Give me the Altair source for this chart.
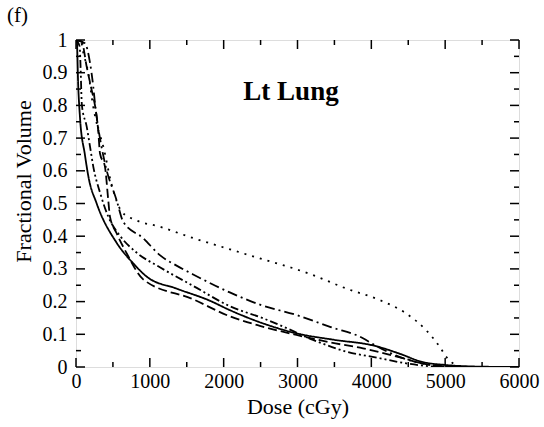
import altair as alt
import pandas as pd

# ---- data ----
solid_dose = [0, 10, 30, 55, 120, 170, 280, 550, 775, 960, 1360, 1810, 2083, 2500, 2986, 3500, 4022, 4428, 4650, 5015, 5500, 6000]
solid_vol = [1.0, 1.0, 0.86, 0.76, 0.65, 0.58, 0.5, 0.38, 0.317, 0.276, 0.24, 0.203, 0.174, 0.136, 0.103, 0.083, 0.066, 0.037, 0.018, 0.006, 0.001, 0.0]

dashed_dose = [0, 77, 145, 212, 257, 302, 325, 392, 437, 460, 550, 686, 910, 1587, 2083, 2490, 2986, 3450, 3887, 4428, 4700, 5000, 5200, 6000]
dashed_vol = [1.0, 0.995, 0.918, 0.847, 0.8, 0.72, 0.653, 0.613, 0.51, 0.46, 0.409, 0.348, 0.268, 0.207, 0.155, 0.126, 0.098, 0.075, 0.057, 0.027, 0.01, 0.002, 0.0, 0.0]

dotted_dose = [0, 60, 100, 166, 230, 280, 370, 480, 620, 800, 1136, 1590, 2040, 2490, 2940, 3210, 3660, 4110, 4470, 4740, 4925, 5015, 5100, 5200, 5400, 6000]
dotted_vol = [1.0, 1.0, 0.96, 0.9, 0.8, 0.745, 0.674, 0.56, 0.475, 0.45, 0.429, 0.394, 0.363, 0.332, 0.302, 0.281, 0.24, 0.205, 0.164, 0.113, 0.062, 0.031, 0.012, 0.003, 0.0, 0.0]

dashdot_dose = [0, 120, 190, 234, 257, 280, 392, 550, 640, 910, 1136, 1362, 1587, 2083, 2500, 2986, 3450, 3887, 4022, 4338, 4700, 5000, 5500, 6000]
dashdot_vol = [1.0, 0.99, 0.93, 0.857, 0.806, 0.765, 0.623, 0.51, 0.444, 0.394, 0.342, 0.31, 0.283, 0.228, 0.19, 0.159, 0.122, 0.088, 0.07, 0.035, 0.01, 0.002, 0.0, 0.0]

dashdotdot_dose = [0, 50, 60, 80, 145, 190, 234, 330, 437, 600, 820, 1136, 1587, 2083, 2534, 2760, 3210, 3662, 4113, 4474, 4800, 5000, 6000]
dashdotdot_vol = [1.0, 0.98, 0.93, 0.8, 0.735, 0.674, 0.613, 0.53, 0.46, 0.4, 0.35, 0.305, 0.248, 0.186, 0.149, 0.128, 0.083, 0.047, 0.027, 0.011, 0.002, 0.0, 0.0]

series_names = ["solid", "dashed", "dotted", "dashdot", "dashdotdot"]
series_dashes = [[1, 0], [9, 4], [2, 6], [10, 4, 2, 4], [8, 3, 2, 3, 2, 3]]

x_major = [0, 1000, 2000, 3000, 4000, 5000, 6000]
x_minor = [500, 1500, 2500, 3500, 4500, 5500]
y_major = [0, 0.1, 0.2, 0.3, 0.4, 0.5, 0.6, 0.7, 0.8, 0.9, 1.0]
y_minor = [0.05, 0.15, 0.25, 0.35, 0.45, 0.55, 0.65, 0.75, 0.85, 0.95]

# ---- build table ----
rows = []
for name, d, v in [
    ("solid", solid_dose, solid_vol),
    ("dashed", dashed_dose, dashed_vol),
    ("dotted", dotted_dose, dotted_vol),
    ("dashdot", dashdot_dose, dashdot_vol),
    ("dashdotdot", dashdotdot_dose, dashdotdot_vol),
]:
    for i, (a, b) in enumerate(zip(d, v)):
        rows.append({"series": name, "dose": a, "vol": b, "order": i})
df = pd.DataFrame(rows)

W, H = 443, 327
FONT = "Liberation Serif"

xs = alt.Scale(domain=[0, 6000], nice=False, zero=False)
ys = alt.Scale(domain=[0, 1], nice=False)

x_axis = alt.Axis(values=x_major, format="d", title="Dose (cGy)", ticks=False, domain=False, grid=False,
                  labelPadding=4, labelFontSize=20, titleFontSize=22, titleFontWeight="normal",
                  labelFont=FONT, titleFont=FONT, labelColor="black", titleColor="black",
                  titlePadding=5, labelFlush=False, labelOverlap=False)
y_axis = alt.Axis(values=y_major, format="~g", title="Fractional Volume", ticks=False, domain=False,
                  grid=False, labelPadding=9, labelFontSize=20, titleFontSize=22,
                  titleFontWeight="normal", labelFont=FONT, titleFont=FONT, labelColor="black",
                  titleColor="black", titlePadding=7, titleY=141, labelFlush=False, labelOverlap=False)

lines = alt.Chart(df).mark_line(color="black", strokeWidth=1.8, interpolate="monotone", clip=True).encode(
    x=alt.X("dose:Q", scale=xs, axis=x_axis, title="Dose (cGy)"),
    y=alt.Y("vol:Q", scale=ys, axis=y_axis, title="Fractional Volume"),
    strokeDash=alt.StrokeDash("series:N", scale=alt.Scale(domain=series_names, range=series_dashes), legend=None),
    detail="series:N",
    order="order:Q",
)

xmaj = pd.DataFrame({"v": x_major})
xmin = pd.DataFrame({"v": x_minor})
ymaj = pd.DataFrame({"v": y_major})
ymin = pd.DataFrame({"v": y_minor})

def xticks(data, length):
    bot = alt.Chart(data).mark_rule(color="black", strokeWidth=1.5).encode(
        x=alt.X("v:Q", scale=xs, axis=x_axis, title="Dose (cGy)"), y=alt.value(H), y2=alt.value(H - length))
    top = alt.Chart(data).mark_rule(color="black", strokeWidth=1.5).encode(
        x=alt.X("v:Q", scale=xs, axis=x_axis, title="Dose (cGy)"), y=alt.value(0), y2=alt.value(length))
    return bot + top

def yticks(data, length):
    left = alt.Chart(data).mark_rule(color="black", strokeWidth=1.5).encode(
        y=alt.Y("v:Q", scale=ys, axis=y_axis, title="Fractional Volume"), x=alt.value(0), x2=alt.value(length))
    right = alt.Chart(data).mark_rule(color="black", strokeWidth=1.5).encode(
        y=alt.Y("v:Q", scale=ys, axis=y_axis, title="Fractional Volume"), x=alt.value(W), x2=alt.value(W - length))
    return left + right

label_df = pd.DataFrame({"t": ["Lt Lung"]})
lt = alt.Chart(label_df).mark_text(font=FONT, fontSize=27, fontWeight="bold", color="black").encode(
    text="t:N", x=alt.value(215), y=alt.value(52))

f_df = pd.DataFrame({"t": ["(f)"]})
ftxt = alt.Chart(f_df).mark_text(font=FONT, fontSize=21, color="black", align="left").encode(
    text="t:N", x=alt.value(-69), y=alt.value(-24))

chart = alt.layer(
    lines,
    xticks(xmaj, 9), xticks(xmin, 5), yticks(ymaj, 9), yticks(ymin, 5),
    lt, ftxt,
).properties(
    width=W, height=H,
    autosize=alt.AutoSizeParams(type="none"),
    padding={"left": 76, "top": 40, "right": 25, "bottom": 60},
).configure_view(stroke="black", strokeWidth=2).configure(background="white")

chart.save("out.html", embed_options={"renderer": "svg", "actions": False})
